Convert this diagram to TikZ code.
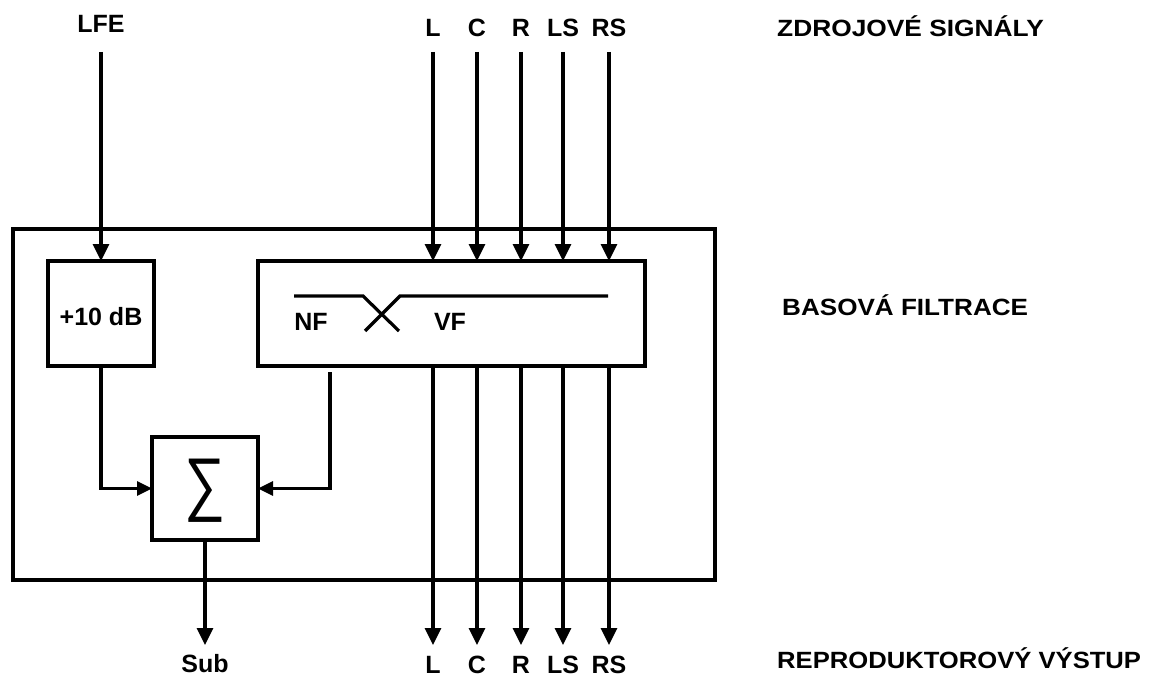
\documentclass[tikz,border=0pt]{standalone}
\usepackage{fontspec}
\setmainfont{Liberation Sans}
\usetikzlibrary{arrows.meta}
\tikzset{
  ln/.style={line width=3.2pt},
  arr/.style={ln,-{Triangle[length=17pt,width=16pt]}},
  arrs/.style={ln,-{Triangle[length=15pt,width=14pt]}},
  blk/.style={draw,ln,rectangle,inner sep=0pt,outer sep=0pt},
  lbl/.style={anchor=base,inner sep=0pt,font=\fontsize{25}{30}\selectfont\bfseries},
  side/.style={anchor=base west,inner sep=0pt,font=\fontsize{23.5}{28}\selectfont\bfseries},
}
\begin{document}
\begin{tikzpicture}[x=1pt,y=-1pt]
\useasboundingbox (0,0) rectangle (1157,677);
% blocks
\node[blk,minimum width=702pt,minimum height=351pt] (outer) at (364,404.5) {};
\node[blk,minimum width=106pt,minimum height=105pt] (gain) at (101,313.5) {};
\node[lbl] (gaintxt) at (101,325) {+10 dB};
\node[blk,minimum width=387pt,minimum height=105pt] (filt) at (451.5,313.5) {};
\node[blk,minimum width=106pt,minimum height=103pt] (sum) at (205,488.5) {};
\node[inner sep=0pt] (sig) at (205.5,490.5) {\scalebox{0.9}[1.1]{\fontsize{64}{66}\selectfont ∑}};
% filter curves
\draw[ln] (294,296) -- (363,296) -- (399,331);
\draw[ln] (365,331) -- (400,296) -- (608,296);
\node[lbl] (nf) at (311,330) {NF};
\node[lbl] (vf) at (450,330) {VF};
% LFE input
\node[lbl] (lfe) at (101,33) {LFE};
\coordinate (slfe) at (101,52);
\draw[arr] (slfe) -- (gain.north);
% inputs
\foreach \n/\x in {L/433,C/477,R/521,LS/563,RS/609}{
  \node[lbl] (in\n) at (\x,37) {\n};
  \coordinate (s\n) at (\x,52);
  \draw[arr] (s\n) -- (s\n |- filt.north);
  \coordinate (e\n) at (\x,645);
  \draw[arr] (e\n |- filt.south) -- (e\n);
  \node[lbl] (out\n) at (\x,673) {\n};
}
% sum connections
\draw[arrs] (gain.south) |- (sum.west);
\coordinate (fo) at (330,372);
\draw[arrs] (fo) |- (sum.east);
\coordinate (esub) at (205,645);
\draw[arr] (sum.south) -- (esub);
\node[lbl] (sub) at (205,672) {Sub};
% side labels
\node[side] (t1) at (777,37) {\scalebox{1.12}[1]{ZDROJOVÉ SIGNÁLY}};
\node[side] (t2) at (782,315) {\scalebox{1.11}[1]{BASOVÁ FILTRACE}};
\node[side] (t3) at (777,668) {\scalebox{1.09}[1]{REPRODUKTOROVÝ VÝSTUP}};
\end{tikzpicture}
\end{document}
